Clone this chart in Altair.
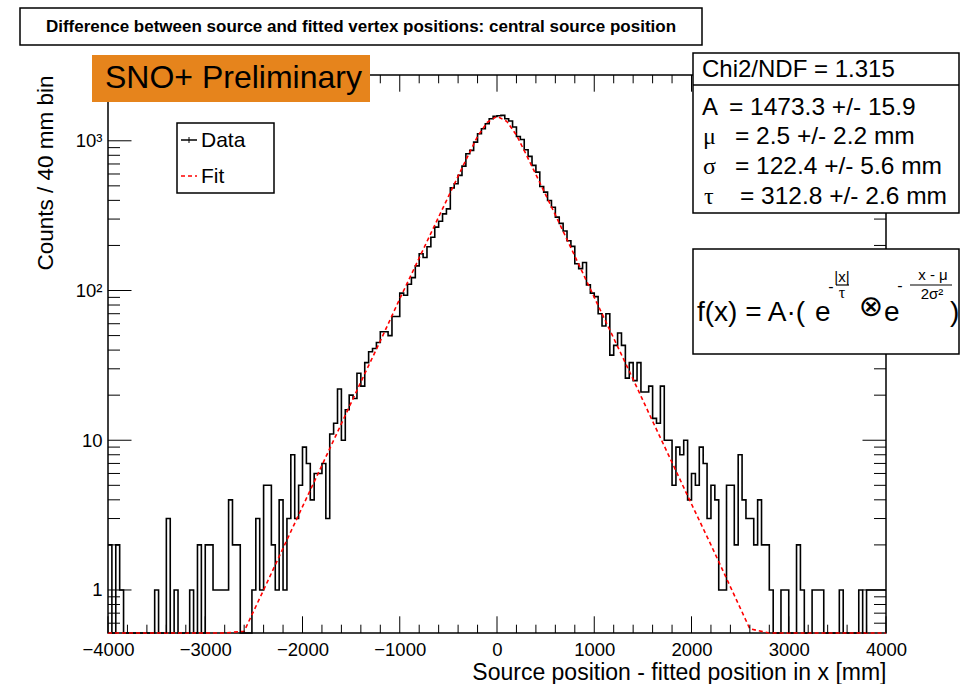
import altair as alt
import pandas as pd

# ---------------- data ----------------
X_MIN, X_MAX, BIN_W = -4000, 4000, 40

counts = [
    2, 0, 2, 1, 0, 0, 0, 0, 0, 0,
    0, 0, 1, 0, 0, 3, 0, 1, 0, 0,
    0, 1, 0, 2, 0, 2, 2, 1, 1, 1,
    1, 4, 2, 2, 0, 0, 0, 1, 3, 1,
    5, 5, 2, 1, 4, 1, 3, 8, 3, 5,
    9, 7, 4, 6, 6, 7, 3, 11, 13, 22,
    10, 16, 20, 19, 28, 23, 33, 39, 41, 45,
    53, 53, 50, 67, 67, 96, 93, 110, 122, 146,
    176, 166, 196, 227, 265, 290, 325, 351, 485, 516,
    587, 677, 819, 863, 980, 1114, 1203, 1300, 1404, 1455,
    1470, 1478, 1404, 1354, 1235, 1069, 1021, 871, 787, 685,
    618, 495, 454, 399, 360, 309, 281, 250, 215, 197,
    151, 140, 154, 109, 96, 91, 70, 58, 70, 37,
    43, 52, 43, 26, 33, 25, 33, 21, 21, 23,
    14, 13, 23, 10, 10, 5, 9, 8, 10, 4,
    6, 5, 9, 7, 3, 5, 4, 1, 1, 5,
    5, 2, 8, 4, 3, 3, 2, 4, 2, 2,
    1, 0, 0, 1, 1, 0, 0, 2, 1, 0,
    0, 1, 1, 1, 0, 0, 0, 0, 1, 0,
    0, 0, 0, 1, 0, 1, 1, 1, 1, 1,
]

fit_x = [-4000, -2800, -2600, -2400, -2200, -2000, -1800, -1600, -1400, -1200,
         -1000, -800, -600, -400, -300, -200, -100, 0, 100, 200, 300, 400,
         600, 800, 1000, 1200, 1400, 1600, 1800, 2000, 2200, 2400, 2600, 2800, 4000]
fit_y = [0.1, 0.28, 0.53, 1.0, 1.9, 3.6, 6.8, 12.9, 24.5, 46,
         88, 165, 310, 580, 790, 1070, 1330, 1455, 1350, 1090, 810, 595,
         320, 170, 90, 48, 25.5, 13.4, 7.1, 3.75, 2.0, 1.05, 0.55, 0.29, 0.1]

x_major = list(range(-4000, 4001, 1000))
x_minor = [v for v in range(-4000, 4001, 200) if v % 1000 != 0]
y_major = [1, 10, 100, 1000]
y_minor = [0.6, 0.7, 0.8, 0.9, 2, 3, 4, 5, 6, 7, 8, 9,
           20, 30, 40, 50, 60, 70, 80, 90,
           200, 300, 400, 500, 600, 700, 800, 900, 2000]
y_domain = [0.516, 2750]

x_title = "Source position - fitted position in x [mm]"
y_title = "Counts / 40 mm bin"
main_title = "Difference between source and fitted vertex positions: central source position"

# ---------------- layout ----------------
W, H = 778, 558
OX, OY = 108, 75
FONT = "Liberation Sans"
SERIF = "Liberation Serif"


def ax(v):
    return v - OX


def ay(v):
    return v - OY


edges = [X_MIN + BIN_W * i for i in range(len(counts))] + [X_MAX]
hist_df = pd.DataFrame({"x": edges, "count": counts + [counts[-1]]})
hist_df["y"] = hist_df["count"].clip(lower=0.05)
fit_df = pd.DataFrame({"x": fit_x, "y": fit_y})

xs = alt.Scale(domain=[X_MIN, X_MAX], nice=False, zero=False)
ys = alt.Scale(type="log", domain=y_domain, nice=False, clamp=True)

x_axis = alt.Axis(values=x_major, format="d", ticks=False, tickSize=0, domain=False,
                  grid=False, labelFont=FONT, labelFontSize=18.5, labelColor="black",
                  labelPadding=7, labelFlush=False, labelOverlap=False,
                  title=x_title, titleFont=FONT, titleFontSize=23,
                  titleFontWeight="normal", titleColor="black", titleX=W, titleY=46,
                  titleAlign="right", titleBaseline="alphabetic")
y_axis = alt.Axis(values=y_major, ticks=False, tickSize=0, domain=False, grid=False,
                  labelExpr="datum.value >= 1000 ? '10³' : datum.value >= 100 ? '10²' : datum.value >= 10 ? '10' : '1'",
                  labelFont=FONT, labelFontSize=18.5, labelColor="black", labelPadding=6,
                  labelFlush=False, labelOverlap=False,
                  title=y_title, titleFont=FONT, titleFontSize=22.5, titleFontWeight="normal",
                  titleColor="black", titleX=-56, titleY=0, titleAngle=270,
                  titleAlign="right", titleBaseline="alphabetic")

X = alt.X("x:Q", scale=xs, axis=x_axis, title=x_title)
Y = alt.Y("y:Q", scale=ys, axis=y_axis, title=y_title)

hist = alt.Chart(hist_df).mark_line(interpolate="step-after", color="black",
                                    strokeWidth=1.6).encode(x=X, y=Y)
fit = alt.Chart(fit_df).mark_line(color="#ff0000", strokeWidth=1.6,
                                  strokeDash=[4, 3]).encode(x=X, y=Y)

layers = [hist, fit]

# ticks (inward, on all four sides)
for vals, ln in ((x_major, 16.7), (x_minor, 8.3)):
    df = pd.DataFrame({"x": vals})
    layers.append(alt.Chart(df).mark_rule(color="black", strokeWidth=1).encode(
        x=X, y=alt.value(H), y2=alt.value(H - ln)))
    layers.append(alt.Chart(df).mark_rule(color="black", strokeWidth=1).encode(
        x=X, y=alt.value(0), y2=alt.value(ln)))
for vals, ln in ((y_major, 23.5), (y_minor, 12)):
    df = pd.DataFrame({"y": vals})
    layers.append(alt.Chart(df).mark_rule(color="black", strokeWidth=1).encode(
        y=Y, x=alt.value(0), x2=alt.value(ln)))
    layers.append(alt.Chart(df).mark_rule(color="black", strokeWidth=1).encode(
        y=Y, x=alt.value(W), x2=alt.value(W - ln)))

one = pd.DataFrame({"a": [0]})


def box(x1, y1, x2, y2, fill="white", stroke="black"):
    kw = dict(fill=fill)
    if stroke:
        kw.update(stroke=stroke, strokeWidth=1.5)
    return alt.Chart(one).mark_rect(**kw).encode(
        x=alt.value(ax(x1)), x2=alt.value(ax(x2)),
        y=alt.value(ay(y1)), y2=alt.value(ay(y2)))


def line(x1, y1, x2, y2, color="black", width=1.5, dash=None):
    kw = dict(color=color, strokeWidth=width)
    if dash:
        kw["strokeDash"] = dash
    return alt.Chart(one).mark_rule(**kw).encode(
        x=alt.value(ax(x1)), x2=alt.value(ax(x2)),
        y=alt.value(ay(y1)), y2=alt.value(ay(y2)))


def text(x, y, s, size, font=FONT, align="left", baseline="alphabetic", weight="normal"):
    return alt.Chart(one).mark_text(text=s, font=font, fontSize=size, align=align,
                                    baseline=baseline, fontWeight=weight,
                                    color="black").encode(
        x=alt.value(ax(x)), y=alt.value(ay(y)))


# title box
layers += [box(20, 8, 702, 45),
           text(361, 27, main_title, 17, align="center", baseline="middle", weight="bold")]
# SNO+ label
layers += [box(92, 55, 370, 102, fill="#E6841C", stroke=None),
           text(105, 88, "SNO+ Preliminary", 32)]
# legend
layers += [box(177, 123, 274, 193),
           line(181, 140, 197, 140, color="black", width=1.5),
           line(189, 137, 189, 143, color="black", width=1),
           text(201, 141, "Data", 21, baseline="middle"),
           line(181, 176, 197, 176, color="#ff0000", width=1.5, dash=[4, 3]),
           text(201, 177, "Fit", 21, baseline="middle")]
# stats box
layers += [box(693, 53, 959, 213),
           line(693, 85, 959, 85, width=1.5),
           text(702, 77, "Chi2/NDF = 1.315", 24),
           text(702, 115, "A", 24),
           text(729, 115, "= 1473.3 +/- 15.9", 24.5),
           text(703, 144, "μ", 24, font=SERIF),
           text(735, 144, "= 2.5 +/- 2.2 mm", 24.5),
           text(703, 174, "σ", 24, font=SERIF),
           text(735, 174, "= 122.4 +/- 5.6 mm", 24.5),
           text(704, 204, "τ", 24, font=SERIF),
           text(740, 204, "= 312.8 +/- 2.6 mm", 24.5)]
# formula box
layers += [box(693, 249, 959, 354),
           text(697, 321, "f(x) = A·(", 28),
           text(815, 321, "e", 28),
           text(831, 292, "-", 16, align="center"),
           text(842, 282, "|x|", 15, align="center"),
           line(836, 285, 849, 285, width=1.2),
           text(842, 298, "τ", 16, font=SERIF, align="center"),
           text(871, 307, "⊗", 29, font="DejaVu Sans", align="center", baseline="middle"),
           text(884, 321, "e", 28),
           text(900, 291, "-", 16, align="center"),
           text(933, 280, "x - μ", 15, align="center"),
           line(910, 285, 952, 285, width=1.2),
           text(932, 299, "2σ²", 15, align="center"),
           text(950, 321, ")", 28)]

chart = alt.layer(*layers).properties(
    width=W, height=H,
    padding={"left": OX, "top": OY, "right": 963 - OX - W, "bottom": 684 - OY - H},
    autosize=alt.AutoSizeParams(type="none"),
).configure_view(stroke="black", strokeWidth=1.5)

chart.save("out.html", embed_options={"renderer": "svg", "actions": False})
